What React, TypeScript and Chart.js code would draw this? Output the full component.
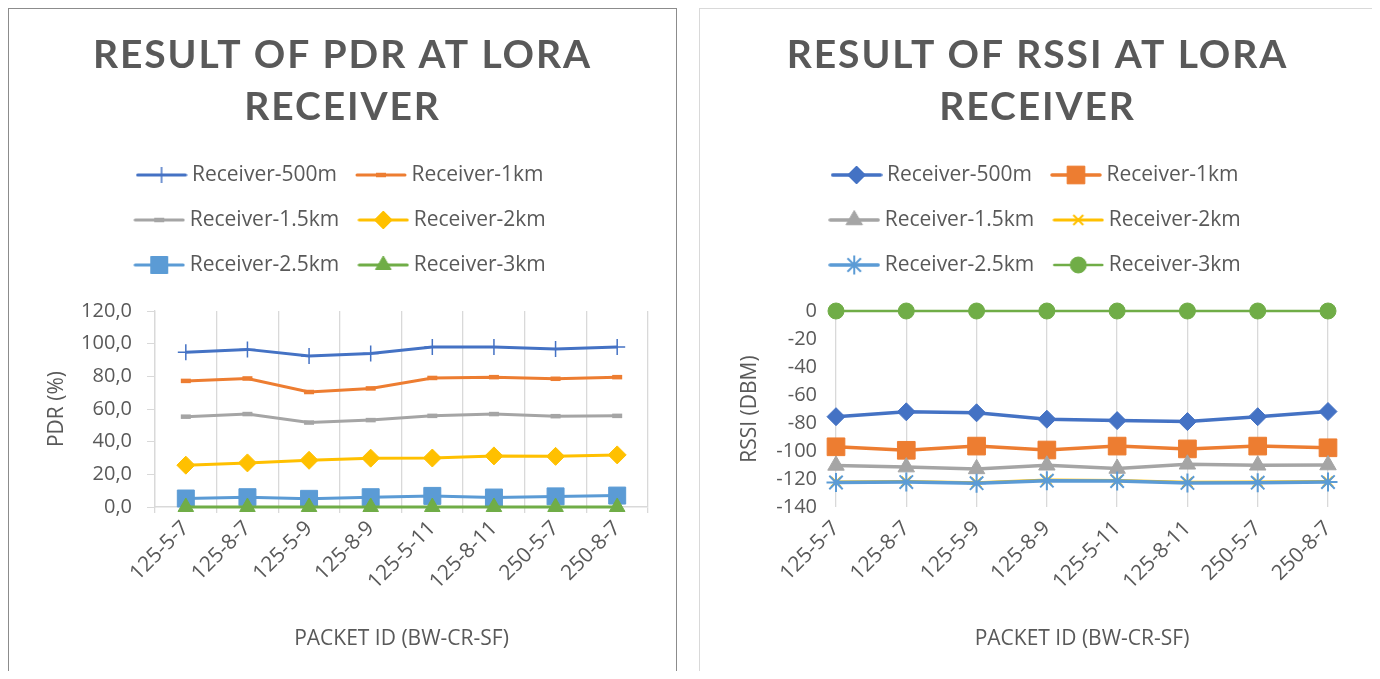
import React, { useEffect, useRef } from 'react';
import { Chart, registerables } from 'chart.js';
import { drawPoint } from 'chart.js/helpers';

Chart.register(...registerables);

// ---------- data ----------
const categories = ['125-5-7', '125-8-7', '125-5-9', '125-8-9', '125-5-11', '125-8-11', '250-5-7', '250-8-7'];
const seriesNames = ['Receiver-500m', 'Receiver-1km', 'Receiver-1.5km', 'Receiver-2km', 'Receiver-2.5km', 'Receiver-3km'];
const seriesColors = ['#4472C4', '#ED7D31', '#A5A5A5', '#FFC000', '#5B9BD5', '#70AD47'];

const pdr500m = [94.7, 96.5, 92.5, 94.0, 98.0, 98.0, 96.8, 98.0];
const pdr1km = [77.2, 78.7, 70.4, 72.6, 79.0, 79.5, 78.5, 79.5];
const pdr15km = [55.3, 56.9, 51.7, 53.2, 55.8, 56.9, 55.6, 55.8];
const pdr2km = [25.6, 27.0, 28.6, 29.9, 30.0, 31.3, 31.0, 31.9];
const pdr25km = [5.2, 6.0, 5.0, 6.0, 6.8, 5.8, 6.5, 7.0];
const pdr3km = [0, 0, 0, 0, 0, 0, 0, 0];

const rssi500m = [-75.5, -72.0, -72.7, -77.3, -78.3, -79.0, -75.5, -71.8];
const rssi1km = [-97.0, -99.5, -96.5, -99.3, -96.5, -98.5, -96.5, -97.7];
const rssi15km = [-110.3, -111.5, -112.8, -110.2, -112.5, -109.5, -110.2, -110.0];
const rssi2km = [-122.1, -121.8, -122.6, -120.8, -121.1, -122.4, -122.2, -121.8];
const rssi25km = [-122.5, -122.2, -123.0, -121.2, -121.5, -122.8, -122.6, -122.2];
const rssi3km = [0, 0, 0, 0, 0, 0, 0, 0];

const pdrTickLabels = ['0,0', '20,0', '40,0', '60,0', '80,0', '100,0', '120,0'];
const rssiTickLabels = ['-140', '-120', '-100', '-80', '-60', '-40', '-20', '0'];

const pdrTitle = ['RESULT OF PDR AT LORA', 'RECEIVER'];
const rssiTitle = ['RESULT OF RSSI AT LORA', 'RECEIVER'];
const xTitle = 'PACKET ID (BW-CR-SF)';
const pdrYTitle = 'PDR (%)';
const rssiYTitle = 'RSSI (DBM)';

// ---------- styles ----------
type Marker = { style: string; r: number; bw: number };
const pdrMarkers: Marker[] = [
  { style: 'cross', r: 8, bw: 1.5 },
  { style: 'line', r: 5, bw: 4.5 },
  { style: 'line', r: 5, bw: 4.5 },
  { style: 'rectRot', r: 9, bw: 1 },
  { style: 'rect', r: 12, bw: 1 },
  { style: 'triangle', r: 9, bw: 1 },
];
const rssiMarkers: Marker[] = [
  { style: 'rectRot', r: 9, bw: 1 },
  { style: 'rect', r: 12.5, bw: 1 },
  { style: 'triangle', r: 9.5, bw: 1 },
  { style: 'crossRot', r: 7, bw: 2 },
  { style: 'star', r: 9.5, bw: 2 },
  { style: 'circle', r: 8, bw: 1 },
];
const pdrLineWidths = [3, 3, 3, 3, 3, 3];
const rssiLineWidths = [3.5, 3.5, 3.5, 3, 3.5, 2.5];

const TEXT = '#595959';
const GRID = '#D9D9D9';

Chart.defaults.font.family = "'Open Sans', 'Liberation Sans', sans-serif";
Chart.defaults.color = TEXT;

function legendImage(color: string, m: Marker, lw: number) {
  const c = document.createElement('canvas');
  c.width = 52;
  c.height = 28;
  const ctx = c.getContext('2d')!;
  ctx.strokeStyle = color;
  ctx.lineWidth = lw;
  ctx.lineCap = 'round';
  ctx.beginPath();
  ctx.moveTo(2, 14);
  ctx.lineTo(50, 14);
  ctx.stroke();
  ctx.fillStyle = color;
  ctx.lineWidth = m.bw;
  ctx.lineCap = 'butt';
  drawPoint(ctx, { pointStyle: m.style as any, radius: m.r, borderWidth: m.bw, rotation: 0 }, 26, 14);
  return c;
}

// keeps the legend in a centred band so that it wraps into two columns,
// and draws the title with a little letter spacing
function layoutTweaks(maxW: number, titleSpacing: string) {
  return {
    id: 'layoutTweaks',
    beforeLayout(chart: any) {
      const tb = chart.titleBlock;
      if (tb && !tb.__spaced) {
        tb.__spaced = true;
        const origTitleDraw = tb.draw.bind(tb);
        tb.draw = function (...args: any[]) {
          const ctx = chart.ctx;
          ctx.save();
          (ctx as any).letterSpacing = titleSpacing;
          origTitleDraw(...args);
          ctx.restore();
        };
      }
      const lg = chart.legend;
      if (!lg || lg.__wrapped) return;
      lg.__wrapped = true;
      const origFit = lg.fit.bind(lg);
      lg.fit = function () {
        const saved = this.maxWidth;
        this.maxWidth = Math.min(saved, maxW);
        origFit();
        this.maxWidth = saved;
      };
      const origDraw = lg.draw.bind(lg);
      lg.draw = function (...args: any[]) {
        const l = this.left;
        const r = this.right;
        const w = this.width;
        const c = (l + r) / 2;
        this.left = c - maxW / 2;
        this.right = c + maxW / 2;
        this.width = maxW;
        origDraw(...args);
        this.left = l;
        this.right = r;
        this.width = w;
      };
    },
  };
}

interface Spec {
  title: string[];
  yTitle: string;
  series: number[][];
  markers: Marker[];
  lineWidths: number[];
  yMin: number;
  yMax: number;
  tickLabels: string[];
  left: boolean;
}

function buildConfig(s: Spec): any {
  const datasets = s.series.map((vals, i) => ({
    label: seriesNames[i],
    data: vals,
    yAxisID: 'y',
    borderColor: seriesColors[i],
    backgroundColor: seriesColors[i],
    borderWidth: s.lineWidths[i],
    pointStyle: s.markers[i].style,
    pointRadius: s.markers[i].r,
    pointBorderWidth: s.markers[i].bw,
    pointBorderColor: seriesColors[i],
    pointBackgroundColor: seriesColors[i],
    tension: 0,
    fill: false,
    clip: false,
    order: s.series.length - i,
  }));
  const images = s.series.map((_, i) => legendImage(seriesColors[i], s.markers[i], s.lineWidths[i]));
  const rightSpace = s.left ? 28 : 47;
  return {
    type: 'line',
    data: { labels: categories, datasets },
    plugins: [layoutTweaks(560, '1.9px')],
    options: {
      animation: false,
      responsive: false,
      maintainAspectRatio: false,
      events: [],
      layout: { padding: { left: 0, right: 0, top: 0, bottom: 28.4 } },
      plugins: {
        tooltip: { enabled: false },
        title: {
          display: true,
          text: s.title,
          color: TEXT,
          font: { family: "'Lato', 'Open Sans', sans-serif", size: 39, weight: 'bold', lineHeight: 52 / 39 },
          padding: { top: 20, bottom: 7.5 },
        },
        subtitle: {
          display: true,
          text: '',
          weight: 500,
          font: { size: 1, lineHeight: 1 },
          padding: { top: 0, bottom: 24.5 },
        },
        legend: {
          position: 'top',
          labels: {
            usePointStyle: true,
            pointStyleWidth: 40,
            padding: 24,
            color: TEXT,
            font: { size: 21 },
            generateLabels: (chart: any) =>
              chart.data.datasets.map((d: any, i: number) => ({
                text: d.label,
                fillStyle: seriesColors[i],
                strokeStyle: seriesColors[i],
                lineWidth: 0,
                pointStyle: images[i],
                hidden: false,
                datasetIndex: i,
                fontColor: TEXT,
              })),
          },
        },
      },
      scales: {
        x: {
          type: 'category',
          offset: s.left,
          grid: {
            display: true,
            offset: s.left,
            color: GRID,
            lineWidth: 1.3,
            drawTicks: s.left,
            tickLength: 6,
            tickColor: GRID,
          },
          border: { display: s.left, color: GRID, width: 1.5 },
          ticks: {
            color: TEXT,
            font: { size: 21 },
            minRotation: 45,
            maxRotation: 45,
            autoSkip: false,
            padding: s.left ? 3 : 9,
          },
          title: { display: true, text: xTitle, color: TEXT, font: { size: 21 }, padding: { top: 0, bottom: 0 } },
          afterFit: (sc: any) => {
            sc.height = 144.6;
          },
        },
        y: {
          min: s.yMin,
          max: s.yMax,
          ticks: {
            stepSize: 20,
            color: TEXT,
            font: { size: 20 },
            padding: s.left ? 15 : 19,
            callback: (_v: any, i: number) => s.tickLabels[i],
          },
          grid: {
            display: s.left,
            drawOnChartArea: false,
            drawTicks: s.left,
            tickLength: 8,
            color: GRID,
          },
          border: { display: s.left, color: GRID, width: 1.3 },
          title: {
            display: true,
            text: s.yTitle,
            color: TEXT,
            font: { size: 21 },
            padding: { top: s.left ? 35.4 : 37.4, bottom: 0 },
          },
          afterFit: (sc: any) => {
            sc.width = s.left ? 146 : 136;
          },
        },
        // empty right-hand spacer so that title and legend stay centred on the panel
        y2: {
          position: 'right',
          display: true,
          grid: { display: false },
          border: { display: false },
          ticks: { display: false },
          afterFit: (sc: any) => {
            sc.width = rightSpace;
          },
        },
      },
    },
  };
}

function Panel({ spec, width, border, marginLeft }: { spec: Spec; width: number; border: string; marginLeft: number }) {
  const ref = useRef<HTMLCanvasElement>(null);
  useEffect(() => {
    const chart = new Chart(ref.current!, buildConfig(spec));
    return () => chart.destroy();
  }, []);
  return (
    <div
      style={{
        width,
        height: 680,
        border: `1px solid ${border}`,
        marginLeft,
        flexShrink: 0,
        background: '#fff',
      }}
    >
      <canvas ref={ref} width={width} height={671} style={{ display: 'block', width, height: 671 }} />
    </div>
  );
}

export default function App() {
  const pdrSpec: Spec = {
    title: pdrTitle,
    yTitle: pdrYTitle,
    series: [pdr500m, pdr1km, pdr15km, pdr2km, pdr25km, pdr3km],
    markers: pdrMarkers,
    lineWidths: pdrLineWidths,
    yMin: 0,
    yMax: 120,
    tickLabels: pdrTickLabels,
    left: true,
  };
  const rssiSpec: Spec = {
    title: rssiTitle,
    yTitle: rssiYTitle,
    series: [rssi500m, rssi1km, rssi15km, rssi2km, rssi25km, rssi3km],
    markers: rssiMarkers,
    lineWidths: rssiLineWidths,
    yMin: -140,
    yMax: 0,
    tickLabels: rssiTickLabels,
    left: false,
  };
  return (
    <div style={{ height: 671, overflow: 'hidden', marginBottom: -8, display: 'flex', alignItems: 'flex-start' }}>
      <Panel spec={pdrSpec} width={667} border="#8C8C8C" marginLeft={0} />
      <Panel spec={rssiSpec} width={675} border="#D9D9D9" marginLeft={22} />
    </div>
  );
}
